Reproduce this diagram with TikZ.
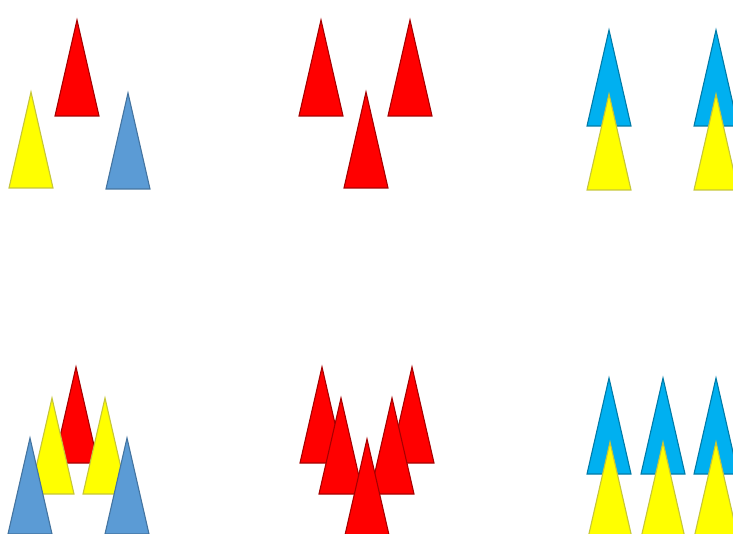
\documentclass[tikz,border=0pt]{standalone}
\usepackage{xcolor}
\usepackage{tikz}

\definecolor{conered}{HTML}{FF0000}
\definecolor{coneyellow}{HTML}{FFFF00}
\definecolor{conesteel}{HTML}{5B9BD5}
\definecolor{conecyan}{HTML}{00B0F0}

% one cone: style, apex x, apex y
\newcommand{\cone}[3]{\draw[#1] (#2,#3) -- ++(-22,96) -- ++(44,0) -- cycle;}

\begin{document}
\begin{tikzpicture}[
  x=1pt, y=-1pt,
  red/.style={fill=conered, draw=conered!65!black, line width=1.1pt},
  yel/.style={fill=coneyellow, draw=coneyellow!55!gray, line width=1.1pt},
  steel/.style={fill=conesteel, draw=conesteel!75!black, line width=1.1pt},
  cyan/.style={fill=conecyan, draw=conecyan!70!black, line width=1.1pt}
]
  \useasboundingbox (0,0) rectangle (733,534);

  % top row
  \cone{red}{77}{20}
  \cone{yel}{31}{92}
  \cone{steel}{128}{93}

  \cone{red}{321}{20}
  \cone{red}{410}{20}
  \cone{red}{366}{92}

  \cone{cyan}{609}{30}
  \cone{yel}{609}{94}
  \cone{cyan}{716}{30}
  \cone{yel}{716}{94}

  % bottom row
  \cone{red}{76}{367}
  \cone{yel}{52}{398}
  \cone{yel}{105}{398}
  \cone{steel}{30}{438}
  \cone{steel}{127}{438}

  \cone{red}{322}{367}
  \cone{red}{412}{367}
  \cone{red}{341}{398}
  \cone{red}{392}{398}
  \cone{red}{367}{439}

  \cone{cyan}{609}{378}
  \cone{yel}{610}{442}
  \cone{cyan}{663}{378}
  \cone{yel}{663}{442}
  \cone{cyan}{716}{378}
  \cone{yel}{716}{442}
\end{tikzpicture}
\end{document}
